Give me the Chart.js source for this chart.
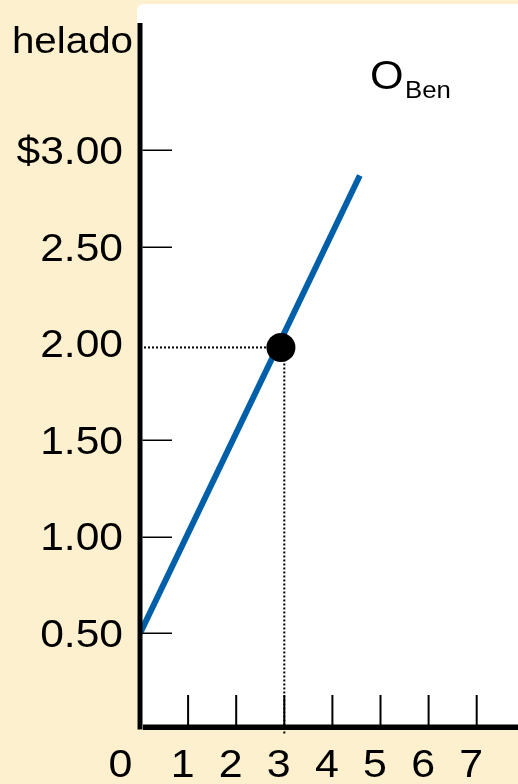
<!DOCTYPE html>
<html>
<head>
<meta charset="utf-8">
<script src="https://cdn.jsdelivr.net/npm/chart.js@4/dist/chart.umd.min.js"></script>
<style>
  html, body { margin: 0; padding: 0; background: #FDF0CF; }
  #wrap { width: 518px; height: 784px; }
</style>
</head>
<body>
<div id="wrap"><canvas id="c" width="518" height="784"></canvas></div>
<script>
// ---- data ----
const supplyX = [0, 4.57];
const supplyY = [0.5, 2.87];
const pointX = [2.93];
const pointY = [1.98];
const guideX = 3;
const xTickValues = [0, 1, 2, 3, 4, 5, 6, 7];
const xTickLabels = ['0', '1', '2', '3', '4', '5', '6', '7'];
const yTickValues = [0.5, 1.0, 1.5, 2.0, 2.5, 3.0];
const yTickLabels = ['0.50', '1.00', '1.50', '2.00', '2.50', '$3.00'];
const yAxisTitle = 'helado';
const curveLabelMain = 'O';
const curveLabelSub = 'Ben';

const BEIGE = '#FDF0CF';
const BLUE = '#005FA9';
const FONT = '"Liberation Sans", Arial, sans-serif';

function stretchedText(ctx, text, x, y, align, size, sx) {
  ctx.save();
  ctx.translate(x, y);
  ctx.scale(sx, 1);
  ctx.font = size + 'px ' + FONT;
  ctx.fillStyle = '#000';
  ctx.textAlign = align;
  ctx.textBaseline = 'alphabetic';
  ctx.fillText(text, 0, 0);
  ctx.restore();
}

const backgroundPlugin = {
  id: 'bg',
  beforeDraw(chart) {
    const ctx = chart.ctx;
    ctx.save();
    ctx.fillStyle = BEIGE;
    ctx.fillRect(0, 0, chart.width, chart.height);
    ctx.fillStyle = '#FFFFFF';
    const left = 137, top = 4, right = chart.width + 10, bottom = 727, r = 7;
    ctx.beginPath();
    ctx.moveTo(left + r, top);
    ctx.lineTo(right, top);
    ctx.lineTo(right, bottom);
    ctx.lineTo(left, bottom);
    ctx.lineTo(left, top + r);
    ctx.quadraticCurveTo(left, top, left + r, top);
    ctx.closePath();
    ctx.fill();
    ctx.restore();
  }
};

const axesPlugin = {
  id: 'axes',
  afterDatasetsDraw(chart) {
    const ctx = chart.ctx;
    const xs = chart.scales.x, ys = chart.scales.y;
    const x0 = xs.getPixelForValue(0);
    const y0 = ys.getPixelForValue(0) - 3;
    ctx.save();
    // y axis
    ctx.fillStyle = '#000';
    ctx.fillRect(x0 - 2.5, 23, 5, y0 + 2.5 - 23);
    // x axis
    ctx.fillRect(x0 + 3, y0 - 2.5, chart.width - x0, 5.5);
    // y tick marks
    ctx.strokeStyle = '#000';
    ctx.lineWidth = 1.5;
    yTickValues.forEach(v => {
      if (v === 2.0) return; // replaced by the dotted guide
      const py = Math.round(ys.getPixelForValue(v)) + 0.25;
      ctx.beginPath();
      ctx.moveTo(x0 + 2.5, py);
      ctx.lineTo(172, py);
      ctx.stroke();
    });
    // x tick marks
    ctx.lineWidth = 2;
    xTickValues.forEach(v => {
      if (v === 0) return;
      const px = xs.getPixelForValue(v);
      ctx.beginPath();
      ctx.moveTo(px, 695);
      ctx.lineTo(px, y0);
      ctx.stroke();
    });
    // tick labels
    yTickValues.forEach((v, i) => {
      const py = ys.getPixelForValue(v);
      stretchedText(ctx, yTickLabels[i], 123, py + 13.5, 'right', 38, 1.12);
    });
    xTickValues.forEach((v, i) => {
      const px = xs.getPixelForValue(v);
      const cx = v === 0 ? px - 19.5 : px - 5.5;
      stretchedText(ctx, xTickLabels[i], cx, 777, 'center', 38, 1.13);
    });
    // axis title
    stretchedText(ctx, yAxisTitle, 133, 53, 'right', 36, 1.12);
    // curve label
    stretchedText(ctx, curveLabelMain, 370, 89, 'left', 40, 1.08);
    stretchedText(ctx, curveLabelSub, 405, 98, 'left', 23, 1.12);
    ctx.restore();
  }
};

const supplyData = supplyX.map((x, i) => ({ x, y: supplyY[i] }));
const dotData = pointX.map((x, i) => ({ x, y: pointY[i] }));
const hGuide = [{ x: 0, y: pointY[0] }, { x: pointX[0], y: pointY[0] }];
const vGuide = [{ x: guideX, y: pointY[0] }, { x: guideX, y: -0.02 }];

new Chart(document.getElementById('c'), {
  type: 'scatter',
  data: {
    datasets: [
      { data: dotData, pointRadius: 14.5, pointHoverRadius: 14.5, backgroundColor: '#000', borderColor: '#000', borderWidth: 0, order: 0 },
      { data: supplyData, showLine: true, borderColor: BLUE, borderWidth: 6, pointRadius: 0, borderCapStyle: 'butt', order: 1 },
      { data: hGuide, showLine: true, borderColor: '#000', borderWidth: 2, borderDash: [2, 2], pointRadius: 0, order: 2 },
      { data: vGuide, showLine: true, borderColor: '#000', borderWidth: 2, borderDash: [2, 2], pointRadius: 0, order: 2, clip: false }
    ]
  },
  options: {
    responsive: false,
    animation: false,
    devicePixelRatio: 1,
    layout: { autoPadding: false, padding: { left: 140, right: 0, top: 4, bottom: 54 } },
    plugins: { legend: { display: false }, tooltip: { enabled: false } },
    events: [],
    scales: {
      x: { type: 'linear', display: false, min: 0, max: 378 / 48.1 },
      y: { type: 'linear', display: false, min: 0, max: 726 / 193.2 }
    }
  },
  plugins: [backgroundPlugin, axesPlugin]
});
</script>
</body>
</html>
